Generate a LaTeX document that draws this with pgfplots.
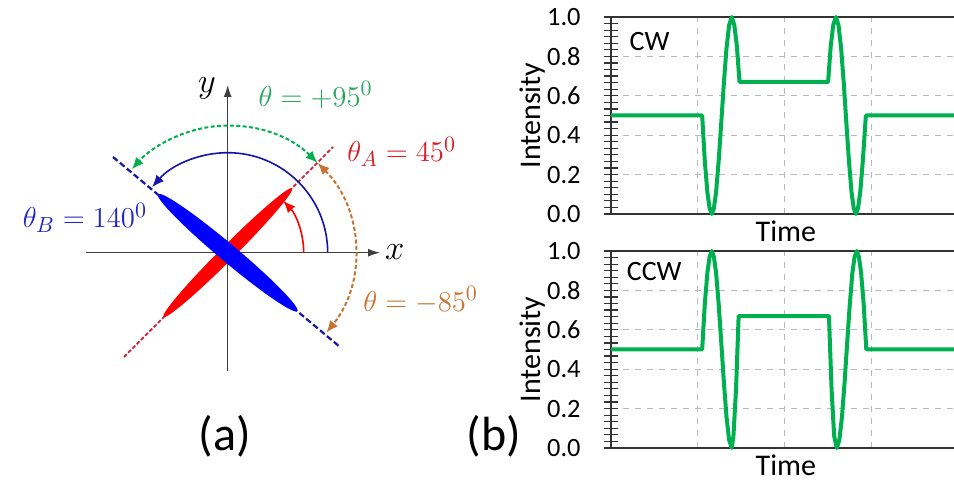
\documentclass[border=0pt]{standalone}
\usepackage{pgfplots}
\pgfplotsset{compat=1.18}
\usepackage{fontspec}
\setmainfont{Carlito}
\usetikzlibrary{arrows.meta}

\definecolor{cgreen}{RGB}{0,176,80}
\definecolor{tgreen}{RGB}{40,165,95}
\definecolor{tred}{RGB}{215,30,40}
\definecolor{dred}{RGB}{205,35,60}
\definecolor{tblue}{RGB}{35,35,200}
\definecolor{dblue}{RGB}{20,20,170}
\definecolor{tbrown}{RGB}{200,115,45}

\pgfplotsset{
  intens/.style={
    scale only axis, width=171.5pt, height=98.5pt, anchor=south west,
    xmin=0, xmax=3.95, ymin=0, ymax=1,
    axis x line*=box, axis y line*=left,
    axis line style={black!80, line width=0.8pt},
    xtick={1,2,3}, xticklabels={}, xtick style={draw=none},
    ytick={0,0.2,...,1.0}, minor y tick num=5,
    tick align=center, major tick length=7pt, minor tick length=7pt,
    ytick style={black!80, line width=0.6pt},
    minor y tick style={black!80, line width=0.6pt},
    yticklabel style={/pgf/number format/fixed, /pgf/number format/fixed zerofill,
      /pgf/number format/precision=1, /pgf/number format/assume math mode=true,
      font=\fontsize{13.2}{14}\selectfont, inner sep=0pt, xshift=-11.5pt},
    grid=major,
    x grid style={gray!55, dashed, line width=0.5pt},
    y grid style={gray!55, dashed, line width=0.5pt},
    ylabel={Intensity}, xlabel={Time},
    every axis y label/.style={at={(axis description cs:-0.228,0.5)}, rotate=90,
      anchor=center, font=\fontsize{15}{15}\selectfont},
    every axis x label/.style={at={(axis description cs:0.51,0)}, anchor=north,
      inner sep=0pt, yshift=-3pt, font=\fontsize{15}{15}\selectfont},
    clip=false,
  },
  sig/.style={cgreen, line width=2pt, line join=round},
}

\begin{document}
\begin{tikzpicture}
\useasboundingbox (0,0) rectangle (477pt,240pt);

% (a) rotation diagram, 1 unit = 1 px of the original
\begin{axis}[
  at={(43pt,54.65pt)}, anchor=south west, scale only axis,
  width=147pt, height=142.85pt,
  xmin=-141.7, xmax=152.3, ymin=-118, ymax=167.7,
  axis lines=middle,
  axis line style={black!75, line width=0.6pt, -{Latex[length=6pt,width=4pt]}},
  xtick=\empty, ytick=\empty, clip=false,
]
\addplot[dred, line width=0.9pt, dash pattern=on 2pt off 1pt] coordinates {(-103.7,-104.3) (105.3,105.7)};
\addplot[dblue, line width=1.1pt, dash pattern=on 3pt off 1.5pt] coordinates {(-114.7,95.7) (112.3,-94.3)};
\fill[red, rotate around={45:(axis cs:0,0)}] (axis cs:0,0) ellipse [x radius=45.5pt, y radius=3.6pt];
\fill[blue, rotate around={140:(axis cs:0,0)}] (axis cs:0,0) ellipse [x radius=45.5pt, y radius=4.4pt];
\draw[dblue, line width=0.8pt, -{Latex[length=6pt,width=5pt]}] (axis cs:100,0) arc[start angle=0, end angle=139, radius=50pt];
\draw[red, line width=0.8pt, -{Latex[length=6pt,width=5pt]}] (axis cs:76,0) arc[start angle=0, end angle=43, radius=38pt];
\draw[cgreen, line width=1pt, dash pattern=on 2pt off 1.2pt, {Latex[length=6pt,width=5pt]}-{Latex[length=6pt,width=5pt]}]
  (axis cs:89.8,89.8) arc[start angle=45, end angle=139, radius=63.5pt];
\draw[tbrown, line width=1pt, dash pattern=on 2pt off 1.2pt, {Latex[length=6pt,width=5pt]}-{Latex[length=6pt,width=5pt]}]
  (axis cs:89.8,89.8) arc[start angle=45, end angle=-39, radius=63.5pt];
\node at (axis cs:167,1) {\fontsize{17}{17}\selectfont $x$};
\node at (axis cs:-20.7,164.7) {\fontsize{17}{17}\selectfont $y$};
\node[tgreen] at (axis cs:88,157.7) {\fontsize{15.5}{16}\selectfont $\theta=+95^{0}$};
\node[tred] at (axis cs:174,100.7) {\fontsize{15.5}{16}\selectfont $\theta_{A}=45^{0}$};
\node[tblue] at (axis cs:-142.7,34.7) {\fontsize{15.5}{16}\selectfont $\theta_{B}=140^{0}$};
\node[tbrown] at (axis cs:193,-47.3) {\fontsize{15.5}{16}\selectfont $\theta=-85^{0}$};
\end{axis}

\node at (112.5pt,22pt) {\fontsize{24}{24}\selectfont (a)};
\node at (247pt,22pt) {\fontsize{24}{24}\selectfont (b)};

% (b) top: CW
\begin{axis}[intens, at={(305.5pt,133pt)}]
\addplot[sig] coordinates {
  (0,0.5) (1.05,0.5) (1.08,0.27) (1.11,0.11) (1.135,0.03) (1.16,0) (1.185,0.03)
  (1.21,0.11) (1.24,0.27) (1.27,0.465) (1.30,0.667) (1.33,0.841) (1.36,0.958)
  (1.39,1) (1.42,0.96) (1.45,0.85) (1.48,0.67)
  (2.50,0.67) (2.53,0.85) (2.56,0.96) (2.59,1) (2.62,0.958) (2.65,0.841)
  (2.68,0.667) (2.71,0.465) (2.74,0.27) (2.77,0.11) (2.795,0.03) (2.82,0)
  (2.845,0.03) (2.87,0.11) (2.90,0.27) (2.935,0.5) (3.95,0.5)
};
\node[anchor=north west, inner sep=0pt] at (axis description cs:0.053,0.924) {\fontsize{14}{14}\selectfont CW};
\end{axis}

% (b) bottom: CCW
\begin{axis}[intens, at={(305.5pt,16pt)}]
\addplot[sig] coordinates {
  (0,0.5) (1.05,0.5) (1.08,0.73) (1.11,0.89) (1.135,0.97) (1.16,1) (1.185,0.97)
  (1.21,0.89) (1.24,0.73) (1.27,0.535) (1.30,0.333) (1.33,0.159) (1.36,0.042)
  (1.39,0) (1.41,0.06) (1.44,0.3) (1.47,0.67)
  (2.51,0.67) (2.54,0.3) (2.57,0.06) (2.60,0) (2.63,0.042) (2.66,0.159)
  (2.69,0.333) (2.72,0.535) (2.75,0.73) (2.78,0.89) (2.805,0.97) (2.83,1)
  (2.855,0.97) (2.88,0.89) (2.91,0.73) (2.94,0.5) (3.95,0.5)
};
\node[anchor=north west, inner sep=0pt] at (axis description cs:0.045,0.944) {\fontsize{14}{14}\selectfont CCW};
\end{axis}
\end{tikzpicture}
\end{document}
